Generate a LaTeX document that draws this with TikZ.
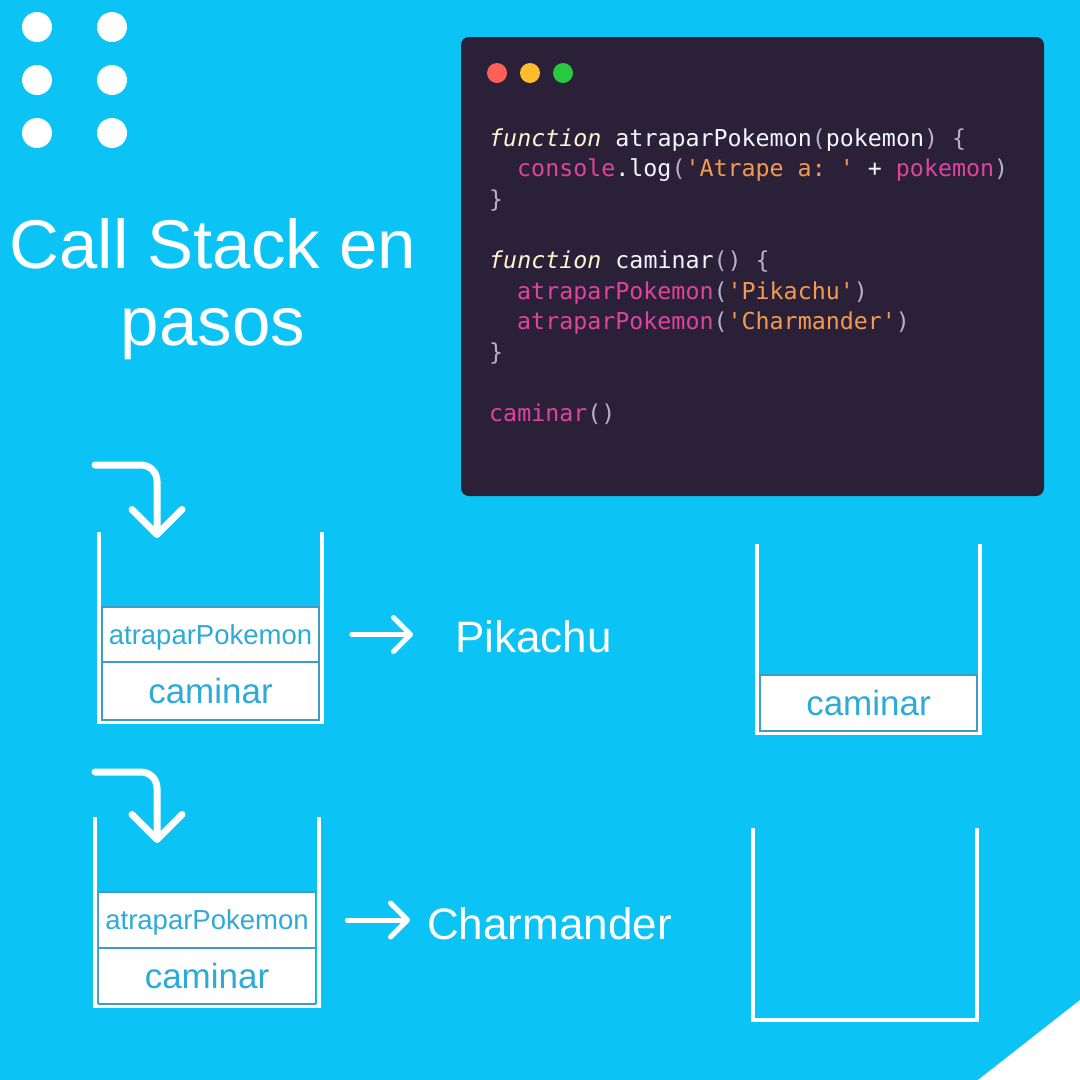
\documentclass[tikz,border=0pt]{standalone}
\usepackage{fontspec}
\setmainfont{Liberation Sans}
\setmonofont{DejaVu Sans Mono}
\usetikzlibrary{arrows.meta}
\definecolor{bg}{HTML}{0BC4F5}
\definecolor{codebg}{HTML}{2A2139}
\definecolor{kw}{HTML}{FEF5D0}
\definecolor{pk}{HTML}{E0439E}
\definecolor{orng}{HTML}{F39A4E}
\definecolor{punc}{HTML}{B6B1C8}
\definecolor{fnw}{HTML}{F2F7FF}
\definecolor{boxtxt}{HTML}{2EAAD8}
\definecolor{boxline}{HTML}{3C9EC6}
\definecolor{lred}{HTML}{FF5F56}
\definecolor{lyel}{HTML}{FFBD2E}
\definecolor{lgrn}{HTML}{27C93F}
\begin{document}
\begin{tikzpicture}[x=1pt,y=-1pt,
  cup/.style={draw=white,line width=4pt,line cap=butt,line join=miter},
  frame/.style={draw=boxline,fill=white,line width=1.6pt,minimum width=217pt,inner sep=0pt,text=boxtxt},
  smallf/.style={font=\fontsize{27.5}{30}\selectfont,text depth=0pt},
  bigf/.style={font=\fontsize{35}{38}\selectfont},
  code/.style={anchor=base west,inner sep=0pt,font=\ttfamily\fontsize{23.3}{28}\selectfont},
  curvarr/.style={draw=white,line width=7pt,line cap=round,line join=round,rounded corners=16pt,
    -{Straight Barb[length=25pt,width=50pt,round]}},
  rarr/.style={draw=white,line width=5pt,line cap=round,
    -{Straight Barb[length=17pt,width=34pt,round]}},
  label/.style={anchor=base west,inner sep=0pt,text=white,font=\fontsize{44}{48}\selectfont},
  dot/.style={fill=white}]
\useasboundingbox (0,0) rectangle (1080,1080);
\fill[bg] (0,0) rectangle (1080,1080);
\fill[white] (978,1080) -- (1080,1000) -- (1080,1080) -- cycle;

% dots
\foreach \xx in {37,112}{\foreach \yy in {27,80,133}{\fill[dot] (\xx,\yy) circle (15);}}

% title
\node[anchor=base,inner sep=0pt,text=white,font=\fontsize{69}{80}\selectfont] (t1) at (213,268) {Call Stack en};
\node[anchor=base,inner sep=0pt,text=white,font=\fontsize{69}{80}\selectfont] (t2) at (213,345) {pasos};

% code window
\fill[codebg,rounded corners=8pt] (461,37) rectangle (1044,496);
\fill[lred] (497,73) circle (10);
\fill[lyel] (530,73) circle (10);
\fill[lgrn] (563,73) circle (10);

\node[code] (l1) at (489,146) {\textcolor{kw}{\itshape function} \textcolor{fnw}{atraparPokemon}\textcolor{punc}{(}\textcolor{fnw}{pokemon}\textcolor{punc}{) \{}};
\node[code] (l2) at (517,176.6) {\textcolor{pk}{console}\textcolor{fnw}{.log}\textcolor{punc}{(}\textcolor{orng}{'Atrape a: '} \textcolor{fnw}{+} \textcolor{pk}{pokemon}\textcolor{punc}{)}};
\node[code] (l3) at (489,207.2) {\textcolor{punc}{\}}};
\node[code] (l5) at (489,268.4) {\textcolor{kw}{\itshape function} \textcolor{fnw}{caminar}\textcolor{punc}{() \{}};
\node[code] (l6) at (517,299) {\textcolor{pk}{atraparPokemon}\textcolor{punc}{(}\textcolor{orng}{'Pikachu'}\textcolor{punc}{)}};
\node[code] (l7) at (517,329.6) {\textcolor{pk}{atraparPokemon}\textcolor{punc}{(}\textcolor{orng}{'Charmander'}\textcolor{punc}{)}};
\node[code] (l8) at (489,360.2) {\textcolor{punc}{\}}};
\node[code] (l10) at (489,421.4) {\textcolor{pk}{caminar}\textcolor{punc}{()}};

% stack 1
\draw[cup] (99,532) -- (99,722) -- (322,722) -- (322,532);
\node[frame,smallf,minimum height=55pt] (a1) at (210.5,634.5) {atraparPokemon};
\node[frame,bigf,minimum height=58pt] (c1) at (210.5,691) {caminar};
\coordinate (in1) at (95,465);
\coordinate (top1) at (157,538);
\draw[curvarr] (in1) -- (157,465) -- (top1);
\node[label] (pika) at (455,652) {Pikachu};
\draw[rarr,shorten <=32pt,shorten >=42pt] (a1.east) -- (a1.east -| pika.west);

% stack 2
\draw[cup] (757,544) -- (757,733) -- (980,733) -- (980,544);
\node[frame,bigf,minimum height=56pt] (c2) at (868.5,703) {caminar};

% stack 3
\draw[cup] (95,817) -- (95,1006) -- (319,1006) -- (319,817);
\node[frame,smallf,minimum height=56pt] (a3) at (207,920) {atraparPokemon};
\node[frame,bigf,minimum height=56pt] (c3) at (207,976) {caminar};
\coordinate (in3) at (95,772);
\coordinate (top3) at (157,843);
\draw[curvarr] (in3) -- (157,772) -- (top3);
\node[label] (charm) at (427,939) {Charmander};
\draw[rarr,shorten <=31pt,shorten >=17pt] (a3.east) -- (a3.east -| charm.west);

% stack 4
\draw[cup] (753,828) -- (753,1020) -- (977,1020) -- (977,828);
\end{tikzpicture}
\end{document}
